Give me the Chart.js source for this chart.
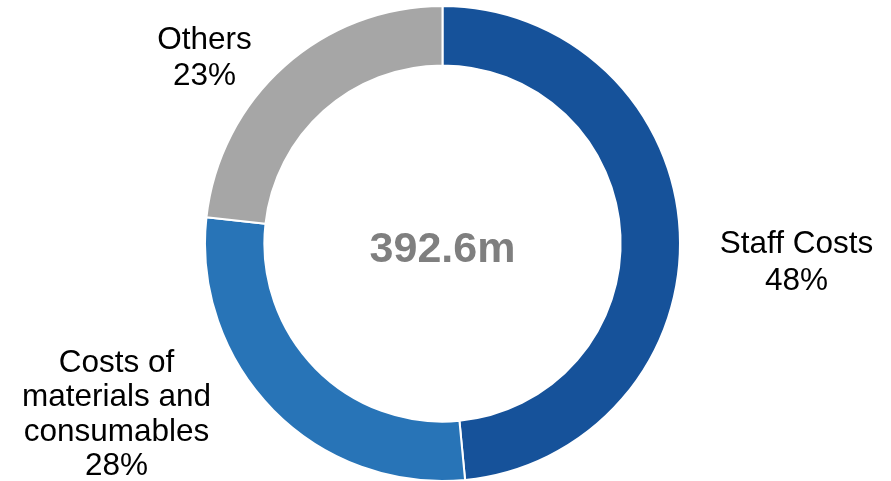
<!DOCTYPE html>
<html lang="en">
<head>
  <meta charset="UTF-8">
  <title>Cost breakdown</title>
  <script src="https://cdn.jsdelivr.net/npm/chart.js@4.4.1/dist/chart.umd.min.js"></script>
  <style>
    html, body {
      margin: 0;
      padding: 0;
      background: #ffffff;
    }

    #wrap {
      width: 891px;
      height: 481px;
    }
  </style>
</head>
<body>
  <div id="wrap"><canvas id="costChart"></canvas></div>
  <script>
    // cost categories and their share of the total (percent)
    const categories = ['Staff Costs', 'Costs of materials and consumables', 'Others']
    const labelLines = [['Staff Costs'], ['Costs of', 'materials and', 'consumables'], ['Others']]
    const shares = [48, 28, 23]
    const totalText = '392.6m'

    const sliceColors = ['#16529A', '#2874B7', '#A6A6A6']
    const fontFamily = '"Liberation Sans", Arial, sans-serif'

    // where each category label sits, relative to the ring centre
    const labelSpots = [
      { dx: 354, dy: 9.5, lineHeight: 37 },
      { dx: -326, dy: 128, lineHeight: 34.5 },
      { dx: -238, dy: -194.5, lineHeight: 36 }
    ]

    const ringText = {
      id: 'ringText',
      afterDraw(chart) {
        const arc = chart.getDatasetMeta(0).data[0]
        if (!arc) return
        const cx = arc.x
        const cy = arc.y
        const ctx = chart.ctx
        ctx.save()
        ctx.textAlign = 'center'
        ctx.textBaseline = 'alphabetic'

        // total in the middle
        ctx.fillStyle = '#7F7F7F'
        ctx.font = 'bold 43px ' + fontFamily
        ctx.fillText(totalText, cx, cy + 18.5)

        // category names with their percentage
        ctx.fillStyle = '#000000'
        ctx.font = '31.5px ' + fontFamily
        labelLines.forEach((lines, i) => {
          const spot = labelSpots[i]
          const all = lines.concat([shares[i] + '%'])
          all.forEach((txt, j) => {
            ctx.fillText(txt, cx + spot.dx, cy + spot.dy + j * spot.lineHeight)
          })
        })
        ctx.restore()
      }
    }

    new Chart(document.getElementById('costChart'), {
      type: 'doughnut',
      data: {
        labels: categories,
        datasets: [{
          data: shares,
          backgroundColor: sliceColors,
          borderColor: '#ffffff',
          borderWidth: 2
        }]
      },
      options: {
        responsive: true,
        maintainAspectRatio: false,
        animation: false,
        cutout: '75%',
        radius: 237.5,
        layout: {
          padding: { top: 6, bottom: 0, left: 0, right: 6 }
        },
        plugins: {
          legend: { display: false },
          tooltip: { enabled: false }
        }
      },
      plugins: [ringText]
    })
  </script>
</body>
</html>
